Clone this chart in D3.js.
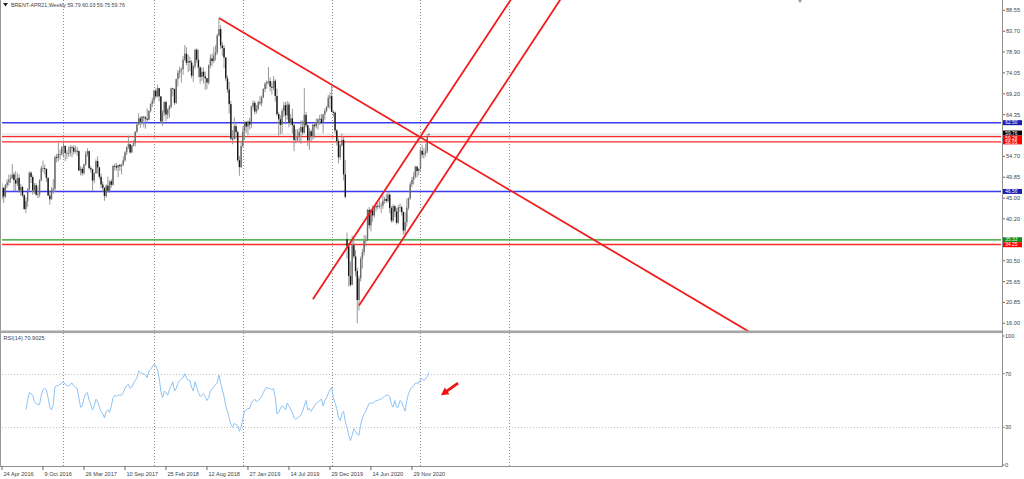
<!DOCTYPE html>
<html><head><meta charset="utf-8">
<script src="https://cdn.jsdelivr.net/npm/d3@7"></script>
<style>html,body{margin:0;padding:0;background:#fff;overflow:hidden}svg{display:block}text{font-family:"Liberation Sans",Arial,sans-serif}</style>
</head><body><svg id="c" width="1024" height="479"></svg>
<script>
// ---------- DATA ----------
const symbolTitle = "BRENT-APR21,Weekly";
const lastQuote = [59.79, 60.03, 59.75, 59.76];
const opens = [
45.1,47.4,45.4,48.0,48.7,49.3,49.6,50.5,49.2,48.4,49.7,46.8,47.6,45.7,42.5,44.3,47.0,50.9,49.9,46.8,48.0,45.8,45.9,49.1,51.9,51.95,51.8,49.7,45.6,44.75,46.9,47.2,54.5,54.3,55.2,55.2,
56.8,57.1,55.45,55.5,55.5,56.8,56.7,55.8,56.0,55.9,51.4,51.8,50.8,52.8,55.2,55.9,52.0,51.7,49.1,50.8,53.6,52.15,49.95,48.15,47.4,45.5,47.9,46.7,48.9,48.1,52.5,52.4,52.1,52.7,52.4,52.75,53.8,55.6,56.9,57.5,55.6,57.2,57.75,60.4,62.1,63.5,62.7,63.9,63.7,63.4,63.2,65.25,
66.9,67.6,69.9,68.6,70.5,68.6,62.8,64.8,67.3,64.4,65.5,66.2,70.45,70.3,67.1,72.6,74.1,74.6,74.9,77.1,78.5,76.4,76.8,76.5,73.4,75.55,79.4,77.1,75.3,73.1,74.3,73.2,72.8,71.8,75.8,77.4,76.8,78.1,78.8,82.7,84.2,80.4,79.8,77.6,72.8,70.2,66.8,58.8,58.7,61.7,60.3,53.8,
52.2,57.1,60.5,62.7,61.6,62.75,62.1,66.25,67.1,65.1,65.7,67.2,67.0,68.4,70.3,71.55,71.97,72.15,70.85,70.6,72.2,68.7,64.5,63.3,62.0,65.2,66.55,64.2,66.7,62.5,63.5,61.9,58.5,58.6,59.3,60.4,61.5,60.2,64.3,61.9,58.4,60.5,59.4,62.0,61.7,62.5,63.3,63.4,62.4,64.4,65.2,66.1,
68.2,68.6,64.98,64.85,60.7,58.2,54.5,57.3,58.5,50.5,35.5,33.85,26.98,24.9,34.1,31.5,28.1,21.4,26.4,30.97,32.5,35.1,35.3,42.3,38.7,42.2,41.0,42.8,43.2,43.1,43.3,43.3,44.4,44.8,44.35,45.8,42.7,39.8,43.15,41.9,39.3,42.85,42.9,41.8,37.5,39.45,42.8,44.96,48.2,49.25,50.0,52.3,
51.3,51.8,55.99,55.1,55.4,55.9,59.79];
const highs = [
48.5,47.6,48.3,49.4,50.5,50.4,52.9,51.0,51.3,50.8,50.5,48.3,47.9,45.9,45.2,47.3,51.2,51.2,50.3,48.5,48.5,47.9,49.4,52.5,53.7,52.8,51.8,49.8,46.6,47.6,49.4,54.9,55.3,57.9,56.3,57.1,
58.4,57.3,56.2,57.0,57.3,57.2,57.3,57.1,56.9,56.1,52.4,52.2,53.0,55.9,56.6,56.0,52.5,51.8,51.0,54.0,54.7,52.2,50.7,48.9,47.5,48.2,50.0,49.1,49.4,52.6,53.0,53.2,52.7,53.0,53.0,54.7,55.9,56.9,59.5,57.7,57.3,58.5,60.5,62.3,64.7,64.0,64.0,64.0,64.0,65.8,65.3,67.0,
68.3,70.0,70.4,71.3,70.6,68.6,65.4,67.4,67.6,65.8,66.6,70.6,70.6,70.4,72.7,74.7,75.5,75.3,78.0,80.5,80.0,78.2,77.8,77.0,75.9,79.6,79.8,79.4,75.6,75.3,75.3,74.4,72.9,76.0,78.3,78.5,80.1,80.4,83.1,86.7,85.1,81.2,80.5,77.7,73.4,72.0,67.6,60.8,63.7,62.2,60.7,54.8,
58.4,61.6,62.8,62.8,63.0,63.6,66.5,67.7,67.5,66.6,67.6,68.7,68.8,70.5,71.9,72.3,75.4,73.0,72.0,73.3,72.6,70.4,64.9,64.2,65.8,67.3,67.3,67.5,67.3,64.5,65.7,62.3,61.0,61.0,61.3,63.1,63.0,70.5,65.0,62.1,61.3,61.0,62.3,62.5,63.5,63.5,64.3,64.6,64.5,65.8,66.4,68.9,
69.5,71.0,65.4,65.1,61.0,58.8,57.6,60.0,59.3,53.9,37.0,34.6,30.3,36.3,36.0,33.0,28.9,27.0,31.5,33.2,36.4,36.4,42.5,43.0,42.5,43.3,43.2,43.9,43.9,44.4,44.0,45.6,45.3,46.0,46.5,46.1,43.2,43.6,43.3,42.7,43.4,43.8,43.3,42.0,41.7,45.0,45.2,48.8,49.9,51.1,52.5,52.5,
52.0,56.6,57.4,56.7,57.6,59.8,60.03];
const lows = [
44.6,43.9,45.0,47.4,47.9,48.5,49.5,46.6,46.6,47.8,46.3,45.5,45.2,42.2,41.5,43.0,46.8,48.5,45.8,46.0,45.5,45.0,45.2,48.9,51.0,50.5,48.8,45.5,43.5,44.7,46.0,46.4,53.3,53.5,53.9,54.8,
54.4,53.6,54.1,54.6,54.7,54.5,55.1,55.4,54.8,51.3,50.3,50.2,50.4,52.5,54.6,51.6,50.9,46.6,48.5,50.6,50.7,49.4,47.3,46.4,44.4,45.1,46.3,46.3,47.4,47.9,51.4,51.4,49.9,51.3,50.5,52.4,53.4,55.0,56.4,55.3,55.5,57.0,57.0,60.1,61.9,61.3,62.1,61.4,61.1,62.5,63.0,64.9,
66.1,66.9,68.1,68.4,67.4,62.4,61.8,64.0,62.8,63.4,63.6,65.8,68.6,66.6,66.8,70.9,72.9,71.8,73.6,76.8,75.8,74.2,74.5,72.8,71.9,75.0,76.4,73.0,71.6,72.2,71.6,70.1,70.3,71.3,75.1,75.6,76.3,76.9,78.3,82.5,79.6,78.0,75.1,72.2,69.4,64.6,58.4,57.5,58.6,58.6,53.4,50.2,
52.0,56.8,58.5,60.1,59.6,60.9,61.2,65.5,64.4,64.6,65.3,66.6,66.3,68.2,69.6,70.4,71.4,69.8,69.0,70.0,67.4,64.0,59.5,59.8,60.0,63.8,62.1,63.2,61.4,61.9,60.0,55.9,57.7,58.2,58.0,57.6,59.6,60.0,61.4,57.1,56.2,58.2,58.5,58.9,61.2,60.9,62.0,62.3,60.1,63.2,64.9,65.9,
65.7,64.9,63.9,60.0,57.2,53.1,53.9,57.0,49.1,44.9,31.0,24.5,24.5,24.8,31.0,26.9,15.98,19.0,25.7,28.7,31.7,33.8,35.0,37.9,37.3,39.6,40.5,42.0,42.4,42.6,41.6,42.5,43.7,43.9,44.0,41.5,39.3,39.4,40.6,38.9,39.1,41.8,41.0,36.6,36.4,38.4,42.3,44.6,47.5,48.2,49.6,49.8,
50.3,51.1,54.3,54.2,54.7,55.4,59.75];
const closes = [
47.4,45.4,48.0,48.7,49.3,49.6,50.5,49.2,48.4,49.7,46.8,47.6,45.7,42.5,44.3,47.0,50.9,49.9,46.8,48.0,45.8,45.9,49.1,51.9,51.95,51.8,49.7,45.6,44.75,46.9,47.2,54.5,54.3,55.2,55.2,56.8,
57.1,55.45,55.5,55.5,56.8,56.7,55.8,56.0,55.9,51.4,51.8,50.8,52.8,55.2,55.9,52.0,51.7,49.1,50.8,53.6,52.15,49.95,48.15,47.4,45.5,47.9,46.7,48.9,48.1,52.5,52.4,52.1,52.7,52.4,52.75,53.8,55.6,56.9,57.5,55.6,57.2,57.75,60.4,62.1,63.5,62.7,63.9,63.7,63.4,63.2,65.25,66.9,
67.6,69.9,68.6,70.5,68.6,62.8,64.8,67.3,64.4,65.5,66.2,70.45,70.3,67.1,72.6,74.1,74.6,74.9,77.1,78.5,76.4,76.8,76.5,73.4,75.55,79.4,77.1,75.3,73.1,74.3,73.2,72.8,71.8,75.8,77.4,76.8,78.1,78.8,82.7,84.2,80.4,79.8,77.6,72.8,70.2,66.8,58.8,58.7,61.7,60.3,53.8,52.2,
57.1,60.5,62.7,61.6,62.75,62.1,66.25,67.1,65.1,65.7,67.2,67.0,68.4,70.3,71.55,71.97,72.15,70.85,70.6,72.2,68.7,64.5,63.3,62.0,65.2,66.55,64.2,66.7,62.5,63.5,61.9,58.5,58.6,59.3,60.4,61.5,60.2,64.3,61.9,58.4,60.5,59.4,62.0,61.7,62.5,63.3,63.4,62.4,64.4,65.2,66.1,68.2,
68.6,64.98,64.85,60.7,58.2,54.5,57.3,58.5,50.5,45.3,33.85,26.98,24.9,34.1,31.5,28.1,21.4,26.4,30.97,32.5,35.1,35.3,42.3,38.7,42.2,41.0,42.8,43.2,43.1,43.3,43.3,44.4,44.8,44.35,45.8,42.7,39.8,43.15,41.9,39.3,42.85,42.9,41.8,37.5,39.45,42.8,44.96,48.2,49.25,50.0,52.3,51.3,
51.8,55.99,55.1,55.4,55.9,59.34,59.76];

const rsiPeriod = 14;
const rsiValue = 70.9025;
const rsi = [
43,50,56,55,54,49,48,47,47,54,
58,59,58,52,45,43,47,60,61,61,
62,63,64,62,61,61,62,63,61,60,
59,52,45,46,52,55,56,50,47,43,
46,51,49,45,42,40,37,42,43,41,
46,52,54,53,54,54,54,56,59,61,
62,59,60,63,65,67,72,71,70,70,
69,67,72,73,75,77,76,73,67,57,
52,57,56,54,58,61,64,57,59,63,
65,66,67,70,67,65,65,60,57,64,
60,56,53,54,55,53,50,52,57,59,
60,62,63,69,63,58,53,46,42,37,
32,30,33,32,31,27,30,36,42,43,
44,44,48,50,51,49,50,51,53,56,
58,60,59,59,58,59,52,40,41,44,
46,45,43,48,46,43,41,37,36,37,
38,39,42,46,50,43,44,42,44,46,
48,49,50,51,46,50,52,55,58,60,
52,48,44,37,35,40,42,34,30,24,
20,24,29,27,25,24,32,37,40,42,
45,48,48,48,49,50,50,51,51,52,
53,54,54,53,47,45,50,45,45,50,
49,45,42,50,55,58,60,61,63,63,
63,66,66,65,66,68,70.9];

const xTickBars = [0,24,48,72,96,120,144,168,192,216,240];
const xTickLabels = ["24 Apr 2016","9 Oct 2016","26 Mar 2017","10 Sep 2017","25 Feb 2018","12 Aug 2018","27 Jan 2019","14 Jul 2019","29 Dec 2019","14 Jun 2020","29 Nov 2020"];
const separatorBars = [36,89,141,193,245,297];
const priceTicks = [88.55,83.70,78.90,74.05,69.20,64.35,54.70,49.85,45.00,40.20,30.50,25.65,20.85,16.00];
const rsiTicks = [100,70,30,0];
const rsiLevels = [70,30];
const levelValues = [62.50, 59.28, 58.05, 46.56, 35.33, 34.25];
const levelKinds  = ["blue","red","red","blue","green","red"];
const bidPrice = 59.76;
const bandRange = [59.30, 60.05];
// trend lines: [barStart, priceStart, barEnd, priceEnd]
const trendLines = [[127,86.77,440,13.44],[182,21.58,298,91.08],[209,20.10,327,91.11]];
// arrow annotation in RSI pane: tail [bar, rsi], head [bar, rsi]
const arrowTail = [267,62.9], arrowHead = [257,54.0];

// ---------- STYLE / LAYOUT ----------
const W=1024,H=479, L=2, R=1001.2, mainTop=0, mainBot=331, rsiTop=333.5, rsiBot=467.5, axisY=466;
const colors = {blue:{line:"#3b3bf2",box:"#1c1cb0"}, red:{line:"#ff2b2b",box:"#ff0000"}, green:{line:"#1f9f1f",box:"#138a13"}, bid:{box:"#000"}};
const fs = 5.6;

const svg = d3.select("#c");
const x = d3.scaleLinear().domain([0,585]).range([L,R]);
const y = d3.scaleLinear().domain([14.21,90.94]).range([mainBot,mainTop]);
const yr = d3.scaleLinear().domain([0,100]).range([rsiBot,rsiTop]);

const defs = svg.append("defs");
defs.append("clipPath").attr("id","cm").append("rect").attr("x",L).attr("y",0).attr("width",R-L).attr("height",mainBot);
defs.append("clipPath").attr("id","cr").append("rect").attr("x",L).attr("y",333).attr("width",R-L).attr("height",axisY-333);

svg.append("rect").attr("width",W).attr("height",H).attr("fill","#fff");

// band
const gm = svg.append("g").attr("clip-path","url(#cm)");
gm.append("rect").attr("x",L).attr("width",R-L).attr("y",y(bandRange[1])).attr("height",y(bandRange[0])-y(bandRange[1])).attr("fill","#efeaea");

// period separators
svg.append("g").selectAll("line").data(separatorBars).join("line")
  .attr("x1",d=>Math.round(x(d))+0.5).attr("x2",d=>Math.round(x(d))+0.5).attr("y1",0).attr("y2",axisY)
  .attr("stroke","#8c8c8c").attr("stroke-width",1).attr("stroke-dasharray","1,2");

// RSI levels
const grr = svg.append("g").attr("clip-path","url(#cr)");
grr.selectAll("line.lv").data(rsiLevels).join("line").attr("class","lv")
  .attr("x1",L).attr("x2",R).attr("y1",d=>Math.round(yr(d))+0.5).attr("y2",d=>Math.round(yr(d))+0.5)
  .attr("stroke","#c4c4c4").attr("stroke-dasharray","1,2");

// horizontal levels
gm.selectAll("line.hl").data(levelValues).join("line").attr("class","hl")
  .attr("x1",L).attr("x2",R).attr("y1",d=>y(d)).attr("y2",d=>y(d))
  .attr("stroke",(d,i)=>colors[levelKinds[i]].line).attr("stroke-width",1.4);

// candles
const bars = closes.map((c,i)=>({i,o:opens[i],h:highs[i],l:lows[i],c}));
gm.selectAll("line.wick").data(bars).join("line").attr("class","wick")
  .attr("x1",d=>x(d.i)).attr("x2",d=>x(d.i)).attr("y1",d=>y(d.h)).attr("y2",d=>y(d.l))
  .attr("stroke","#8d8d8d").attr("stroke-width",0.9);
gm.selectAll("rect.body").data(bars).join("rect").attr("class","body")
  .attr("x",d=>x(d.i)-0.7).attr("width",1.4)
  .attr("y",d=>y(Math.max(d.o,d.c))).attr("height",d=>Math.max(0.8,Math.abs(y(d.o)-y(d.c))))
  .attr("fill",d=>d.c>=d.o?"#6a6a6a":"#151515");

// trend lines
gm.selectAll("line.tl").data(trendLines).join("line").attr("class","tl")
  .attr("x1",d=>x(d[0])).attr("y1",d=>y(d[1])).attr("x2",d=>x(d[2])).attr("y2",d=>y(d[3]))
  .attr("stroke","#f21c1c").attr("stroke-width",1.8);

// RSI line
const rsiPts = rsi.map((v,k)=>({i:k+rsiPeriod,v}));
grr.append("path").datum(rsiPts).attr("fill","none").attr("stroke","#8ec2f4").attr("stroke-width",1)
  .attr("d",d3.line().x(d=>x(d.i)).y(d=>yr(d.v)));

// arrow
(function(){
  const x1=x(arrowTail[0]),y1=yr(arrowTail[1]),x2=x(arrowHead[0]),y2=yr(arrowHead[1]);
  const dx=x2-x1,dy=y2-y1,len=Math.hypot(dx,dy),ux=dx/len,uy=dy/len,px=-uy,py=ux;
  const hl=7.5,hw=4,sw=1.4;
  const bx=x2-ux*hl,by=y2-uy*hl;
  const pts=[[x1+px*sw,y1+py*sw],[bx+px*sw,by+py*sw],[bx+px*hw,by+py*hw],[x2,y2],[bx-px*hw,by-py*hw],[bx-px*sw,by-py*sw],[x1-px*sw,y1-py*sw]];
  svg.append("polygon").attr("points",pts.map(p=>p.join(",")).join(" ")).attr("fill","#ee1111");
})();

// frames
svg.append("line").attr("x1",0.5).attr("x2",0.5).attr("y1",0).attr("y2",axisY).attr("stroke","#9a9a9a");
svg.append("rect").attr("x",0).attr("y",330.5).attr("width",1003).attr("height",2.6).attr("fill","#a6a6a6");
svg.append("line").attr("x1",1002.5).attr("x2",1002.5).attr("y1",0).attr("y2",axisY+0.5).attr("stroke","#909090");
svg.append("line").attr("x1",0).attr("x2",1003).attr("y1",axisY+0.5).attr("y2",axisY+0.5).attr("stroke","#909090");
svg.append("polygon").attr("points","798,0 802,0 800,3").attr("fill","#9a9a9a");

// price axis ticks
const pa = svg.append("g");
pa.selectAll("line").data(priceTicks).join("line").attr("x1",1003).attr("x2",1005).attr("y1",d=>y(d)).attr("y2",d=>y(d)).attr("stroke","#666");
pa.selectAll("text").data(priceTicks).join("text").attr("x",1006).attr("y",d=>y(d)+2).attr("font-size",fs).attr("fill","#444").text(d=>d.toFixed(2));

// level boxes: overlapping labels are stacked and centred on their cluster
const boxH=5.0, boxX=1003, boxW=19, boxFs=4.8;
const boxes = levelValues.map((v,i)=>({v,k:levelKinds[i]})).concat([{v:bidPrice,k:"bid"}])
  .map(d=>({...d,cy:y(d.v)})).sort((a,b)=>a.cy-b.cy);
const clusters=[];
boxes.forEach(b=>{const c=clusters[clusters.length-1]; if(c && b.cy-c[c.length-1].cy<boxH) c.push(b); else clusters.push([b]);});
clusters.forEach(c=>{const m=d3.mean(c,d=>d.cy); c.forEach((b,k)=>{b.cy=m+(k-(c.length-1)/2)*boxH;});});
const gb = svg.append("g");
gb.selectAll("rect").data(boxes).join("rect").attr("x",boxX).attr("y",d=>d.cy-boxH/2).attr("width",boxW).attr("height",boxH).attr("fill",d=>colors[d.k].box);
gb.selectAll("text").data(boxes).join("text").attr("x",boxX+2.3).attr("y",d=>d.cy+1.7).attr("font-size",boxFs).attr("fill","#fff").text(d=>d.v.toFixed(2));

// rsi axis
const ra = svg.append("g");
ra.selectAll("text").data(rsiTicks).join("text").attr("x",1005).attr("y",d=>Math.min(Math.max(yr(d)+2,338),467)).attr("font-size",fs).attr("fill","#444").text(d=>d);
ra.selectAll("line").data(rsiTicks).join("line").attr("x1",1003).attr("x2",1004.5).attr("y1",d=>Math.min(Math.max(yr(d),336),465)).attr("y2",d=>Math.min(Math.max(yr(d),336),465)).attr("stroke","#666");

// x axis
const xa = svg.append("g");
xa.selectAll("line").data(xTickBars).join("line").attr("x1",d=>x(d)).attr("x2",d=>x(d)).attr("y1",axisY).attr("y2",axisY+4).attr("stroke","#666");
xa.selectAll("text").data(xTickBars).join("text").attr("x",d=>x(d)+1.5).attr("y",476).attr("font-size",fs).attr("fill","#444").text((d,i)=>xTickLabels[i]);

// titles
svg.append("polygon").attr("points","3,3 8,3 5.5,6.5").attr("fill","#222");
svg.append("text").attr("x",11).attr("y",7.3).attr("font-size",5.3).attr("fill","#444")
  .text(symbolTitle+" "+lastQuote.map(v=>v.toFixed(2)).join(" "));
svg.append("text").attr("x",3.5).attr("y",339.5).attr("font-size",fs).attr("fill","#444").text("RSI("+rsiPeriod+") "+rsiValue.toFixed(4));
</script></body></html>
